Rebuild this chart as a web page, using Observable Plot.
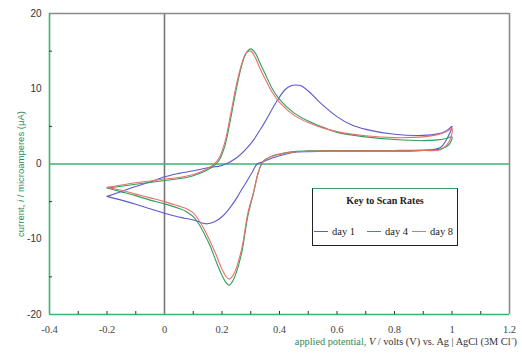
<!DOCTYPE html>
<html>
<head>
<meta charset="utf-8">
<script src="https://cdn.jsdelivr.net/npm/d3@7"></script>
<script src="https://cdn.jsdelivr.net/npm/@observablehq/plot@0.6"></script>
<style>
  html, body { margin: 0; padding: 0; background: #fff; }
  #wrap { position: relative; width: 522px; height: 362px; }
  #legend {
    position: absolute; left: 312px; top: 188px; width: 144px; height: 56px;
    border: 1px solid #222; border-top-color: #3a9a5e; background: #fff;
    font-family: "Liberation Serif", serif; color: #222;
  }
  #legend .title { position: absolute; top: 6px; left: 0; right: 0; text-align: center; font-weight: bold; font-size: 10px; }
  #legend .item { position: absolute; top: 37px; font-size: 10.5px; white-space: nowrap; display: flex; align-items: center; }
  #legend .sw { display: inline-block; width: 14px; height: 0; border-top: 1.2px solid; margin-right: 4px; }
</style>
</head>
<body>
<div id="wrap"></div>
<script>
// ---- data ----
const days = ["day 1", "day 4", "day 8"];
const dayColors = ["#5a5ad2", "#2f9e5c", "#e8706a"];

const xTicks = [-0.4, -0.2, 0, 0.2, 0.4, 0.6, 0.8, 1, 1.2];
const xMinorTicks = [-0.3, -0.2, -0.1, 0.1, 0.2, 0.3, 0.4, 0.5, 0.6, 0.7, 0.8, 0.9, 1.0, 1.1];
const yTicks = [-20, -10, 0, 10, 20];
const yMinorTicks = [-15, -5, 5, 15];
const xDomain = [-0.4, 1.2];
const yDomain = [-20, 20];

// day 1: forward (anodic) sweep then return sweep
const potentialDay1 = [-0.2, -0.15, -0.1, -0.05, 0, 0.05, 0.1, 0.15, 0.2, 0.25, 0.3, 0.345, 0.39, 0.42, 0.44, 0.456, 0.475, 0.5, 0.54, 0.6, 0.65, 0.7, 0.8, 0.9, 0.95, 0.98, 1.0,
  0.98, 0.96, 0.9, 0.8, 0.7, 0.6, 0.5, 0.46, 0.43, 0.4, 0.375, 0.355, 0.34, 0.322, 0.305, 0.288, 0.27, 0.253, 0.23, 0.206, 0.19, 0.172, 0.149, 0.13, 0.114, 0.09, 0.07, 0.05, 0, -0.05, -0.1, -0.15, -0.2];
const currentDay1 = [-4.3, -3.65, -3.0, -2.4, -1.7, -1.25, -0.9, -0.5, -0.2, 0.8, 2.7, 5.3, 8.3, 9.9, 10.4, 10.5, 10.4, 9.7, 8.2, 6.3, 5.2, 4.6, 3.95, 3.8, 4.0, 4.4, 5.0,
  3.2, 2.2, 1.8, 1.7, 1.7, 1.7, 1.65, 1.6, 1.4, 1.1, 0.8, 0.5, 0.25, 0, -1.1, -2.2, -3.3, -4.4, -5.7, -6.8, -7.3, -7.7, -7.95, -7.85, -7.6, -7.35, -7.2, -7.05, -6.55, -5.95, -5.35, -4.8, -4.3];

// day 4
const potentialDay4 = [-0.2, -0.15, -0.1, -0.05, 0, 0.05, 0.1, 0.14, 0.17, 0.19, 0.21, 0.23, 0.25, 0.27, 0.285, 0.3, 0.315, 0.33, 0.35, 0.375, 0.4, 0.45, 0.5, 0.55, 0.6, 0.7, 0.8, 0.9, 0.95, 0.98, 1.0,
  0.99, 0.96, 0.9, 0.8, 0.7, 0.6, 0.5, 0.45, 0.42, 0.39, 0.37, 0.355, 0.34, 0.325, 0.31, 0.29, 0.27, 0.25, 0.235, 0.225, 0.215, 0.2, 0.18, 0.16, 0.14, 0.12, 0.1, 0.075, 0.05, 0, -0.05, -0.1, -0.15, -0.2];
const currentDay4 = [-3.2, -2.95, -2.7, -2.45, -2.2, -1.95, -1.55, -0.95, -0.3, 0.5, 2.4, 6.0, 10.0, 13.3, 14.8, 15.3, 14.8, 13.6, 12.0, 10.0, 8.6, 6.8, 5.7, 4.9, 4.2, 3.6, 3.25, 3.1, 3.2, 3.4, 3.6,
  2.6, 2.0, 1.85, 1.8, 1.8, 1.8, 1.75, 1.65, 1.5, 1.25, 1.0, 0.7, 0.2, -1.3, -3.8, -6.9, -11.5, -14.4, -15.7, -16.1, -15.8, -14.8, -13.0, -11.0, -9.4, -8.0, -7.0, -6.3, -5.9, -5.3, -4.8, -4.2, -3.7, -3.2];

// day 8
const potentialDay8 = potentialDay4.slice();
const currentDay8 = [-3.1, -2.8, -2.5, -2.25, -2.0, -1.8, -1.4, -0.8, -0.1, 0.8, 2.9, 6.6, 10.5, 13.5, 14.8, 15.0, 14.2, 12.9, 11.3, 9.5, 8.2, 6.5, 5.5, 4.8, 4.3, 3.75, 3.5, 3.6, 3.9, 4.3, 4.7,
  3.0, 1.9, 1.8, 1.75, 1.75, 1.75, 1.7, 1.6, 1.45, 1.2, 0.95, 0.65, 0.15, -1.3, -3.7, -6.5, -11.0, -13.8, -15.0, -15.3, -15.0, -14.0, -12.1, -10.4, -8.8, -7.5, -6.5, -5.9, -5.6, -5.0, -4.5, -4.0, -3.5, -3.1];

// ---- build table ----
const series = [
  {day: days[0], v: potentialDay1, i: currentDay1},
  {day: days[1], v: potentialDay4, i: currentDay4},
  {day: days[2], v: potentialDay8, i: currentDay8}
];
const rows = series.flatMap(s => s.v.map((v, k) => ({day: s.day, v, i: s.i[k]})));

const W = 522, H = 362, mL = 49, mR = 13, mT = 13, mB = 48;
const plotW = W - mL - mR, plotH = H - mT - mB;
const axisGreen = "#3cb371";
const serif = "'Liberation Serif', 'Times New Roman', serif";
const sans = "'Liberation Sans', Arial, sans-serif";

const chart = Plot.plot({
  width: W, height: H,
  marginLeft: mL, marginRight: mR, marginTop: mT, marginBottom: mB,
  style: {background: "white", fontFamily: serif, fontSize: "10px", color: "#444", overflow: "visible"},
  x: {domain: xDomain},
  y: {domain: yDomain},
  color: {domain: days, range: dayColors},
  marks: [
    Plot.ruleX([0], {stroke: "#767676", strokeWidth: 1.6}),
    Plot.ruleY([0], {stroke: axisGreen, strokeWidth: 1.4}),
    Plot.ruleY([yDomain[1]], {stroke: "#8a8a8a", strokeWidth: 1.6}),
    Plot.ruleX([xDomain[1]], {stroke: "#8a8a8a", strokeWidth: 1.6}),
    Plot.ruleX([xDomain[0]], {stroke: axisGreen, strokeWidth: 1.6}),
    Plot.ruleY([yDomain[0]], {stroke: axisGreen, strokeWidth: 1.6}),
    Plot.tickX(xMinorTicks, {x: d => d, insetTop: plotH - 3, stroke: "#333", strokeWidth: 1}),
    Plot.tickY(yMinorTicks, {y: d => d, insetRight: plotW - 3, stroke: "#333", strokeWidth: 1}),
    Plot.line(rows, {x: "v", y: "i", z: "day", stroke: "day", strokeWidth: 1.1, curve: "catmull-rom"}),
    Plot.axisX({ticks: xTicks, tickSize: 0, tickPadding: 11, tickFormat: d => String(d), label: null, fontFamily: serif, fontSize: 10.5, fill: "#444"}),
    Plot.axisY({ticks: yTicks, tickSize: 0, tickPadding: 8, tickFormat: d => String(d), label: null, fontFamily: sans, fontSize: 10, fill: "#333"})
  ]
});

const wrap = document.getElementById("wrap");
wrap.appendChild(chart);

// axis titles
const svg = d3.select(chart);
const yl = svg.append("text")
  .attr("transform", "translate(24,174) rotate(-90)")
  .attr("text-anchor", "middle")
  .attr("font-family", sans).attr("font-size", 9.5).attr("fill", "#2e8b57");
yl.append("tspan").text("current, ");
yl.append("tspan").attr("font-style", "italic").text("i");
yl.append("tspan").text(" / microamperes (\u03bcA)");

const xl = svg.append("text")
  .attr("x", 517).attr("y", 345)
  .attr("text-anchor", "end")
  .attr("font-family", serif).attr("font-size", 10.3).attr("fill", "#333");
xl.append("tspan").attr("fill", "#2e8b57").text("applied potential, ");
xl.append("tspan").attr("font-style", "italic").text("V");
xl.append("tspan").text(" / volts (V) vs. Ag | AgCl (3M Cl\u207b)");

// legend
const itemLeft = [1, 54, 99];
const lg = document.createElement("div");
lg.id = "legend";
lg.innerHTML = '<div class="title">Key to Scan Rates</div>' +
  days.map((d, k) => `<span class="item" style="left:${itemLeft[k]}px"><span class="sw" style="border-color:${dayColors[k]}"></span>${d}</span>`).join("");
wrap.appendChild(lg);
</script>
</body>
</html>
